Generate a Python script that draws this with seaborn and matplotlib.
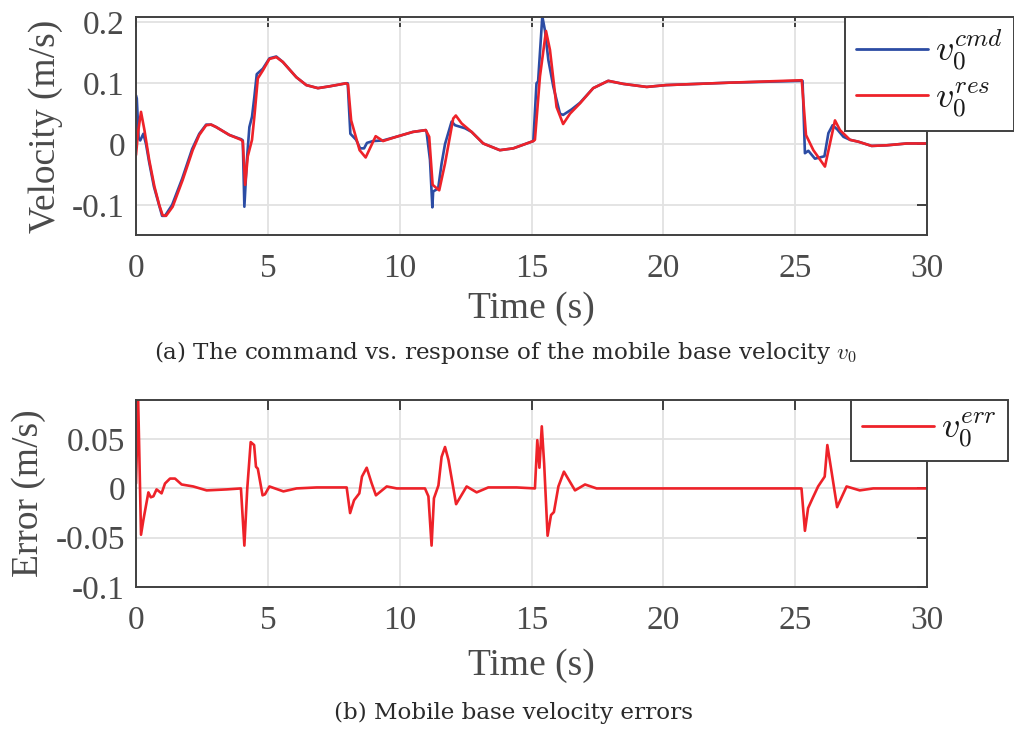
import numpy as np
import seaborn as sns
import matplotlib.pyplot as plt

# =====================================================
# DATA
# =====================================================
res_t = [0.0, 0.08, 0.19, 0.32, 0.5, 0.7, 0.88, 1.01, 1.14, 1.39, 1.77, 2.15, 2.4, 2.66,
         2.85, 3.04, 3.54, 3.99, 4.05, 4.14, 4.24, 4.4, 4.5, 4.62, 4.81, 5.06, 5.32, 5.57,
         6.08, 6.46, 6.9, 7.34, 7.97, 8.04, 8.16, 8.48, 8.71, 9.09, 9.37, 9.87, 10.5, 10.99,
         11.12, 11.25, 11.5, 11.72, 12.03, 12.13, 12.35, 12.73, 13.17, 13.8, 14.31, 15.07,
         15.13, 15.32, 15.55, 15.7, 15.95, 16.2, 16.46, 16.84, 17.34, 17.91, 18.48, 19.37,
         20.1, 22.5, 25.25, 25.41, 25.69, 26.13, 26.51, 26.7, 27.08, 27.39, 27.9, 28.47,
         29.23, 30.0]
res_v = [-0.018, 0.02, 0.053, 0.023, -0.026, -0.07, -0.1, -0.117, -0.118, -0.103, -0.059,
         -0.01, 0.015, 0.031, 0.032, 0.028, 0.015, 0.007, 0.004, -0.067, -0.02, 0.007, 0.05,
         0.108, 0.121, 0.14, 0.143, 0.135, 0.11, 0.097, 0.092, 0.095, 0.1, 0.098, 0.039,
         -0.01, -0.022, 0.013, 0.005, 0.012, 0.02, 0.023, 0.012, -0.067, -0.076, -0.032,
         0.042, 0.047, 0.034, 0.02, 0.001, -0.01, -0.007, 0.005, 0.007, 0.111, 0.186, 0.155,
         0.061, 0.033, 0.05, 0.067, 0.092, 0.104, 0.099, 0.094, 0.097, 0.101, 0.105, 0.015,
         -0.01, -0.037, 0.039, 0.023, 0.007, 0.004, -0.003, -0.002, 0.001, 0.001]

cmd_t = [0.0, 0.03, 0.1, 0.16, 0.28, 0.38, 0.5, 0.68, 0.99, 1.1, 1.37, 1.75, 2.13, 2.4,
         2.66, 2.85, 3.04, 3.54, 3.99, 4.05, 4.11, 4.2, 4.3, 4.4, 4.49, 4.58, 4.81, 5.06,
         5.32, 5.57, 6.08, 6.46, 6.9, 7.34, 7.97, 8.03, 8.13, 8.35, 8.5, 8.65, 8.76, 8.99,
         9.37, 9.87, 10.5, 10.99, 11.02, 11.15, 11.24, 11.27, 11.46, 11.59, 11.72, 11.97,
         12.1, 12.48, 12.73, 13.17, 13.8, 14.31, 15.07, 15.19, 15.25, 15.41, 15.51, 15.64,
         15.83, 16.08, 16.2, 16.52, 16.84, 17.34, 17.91, 18.48, 19.37, 20.1, 22.5, 25.28,
         25.37, 25.5, 25.75, 26.11, 26.26, 26.42, 26.6, 26.83, 27.08, 27.39, 27.9, 28.47,
         29.23, 30.0]
cmd_v = [0.08, 0.075, 0.01, 0.006, 0.017, 0.0, -0.03, -0.07, -0.118, -0.118, -0.1, -0.057,
         -0.008, 0.017, 0.032, 0.032, 0.028, 0.015, 0.008, 0.006, -0.103, -0.03, 0.028,
         0.045, 0.078, 0.115, 0.124, 0.141, 0.144, 0.135, 0.11, 0.097, 0.092, 0.095, 0.1,
         0.1, 0.017, 0.007, -0.007, -0.007, 0.002, 0.005, 0.006, 0.012, 0.02, 0.023, 0.02,
         -0.026, -0.104, -0.078, -0.073, -0.032, 0.0, 0.037, 0.031, 0.026, 0.02, 0.001,
         -0.01, -0.007, 0.005, 0.1, 0.103, 0.21, 0.187, 0.138, 0.094, 0.05, 0.048, 0.057,
         0.068, 0.092, 0.104, 0.099, 0.094, 0.097, 0.101, 0.104, -0.015, -0.011, -0.024,
         -0.02, 0.018, 0.031, 0.024, 0.012, 0.007, 0.004, -0.003, -0.002, 0.001, 0.001]

err_t = [0.0, 0.08, 0.13, 0.19, 0.28, 0.47, 0.56, 0.66, 0.78, 0.97, 1.1, 1.29, 1.48, 1.73,
         2.17, 2.68, 3.44, 3.98, 4.11, 4.22, 4.35, 4.48, 4.55, 4.62, 4.8, 4.89, 5.06, 5.27,
         5.59, 6.09, 6.85, 7.99, 8.12, 8.27, 8.47, 8.57, 8.75, 8.94, 9.1, 9.51, 9.89, 10.96,
         11.09, 11.21, 11.3, 11.47, 11.59, 11.72, 11.85, 12.14, 12.54, 12.92, 13.36, 14.44,
         15.13, 15.22, 15.3, 15.39, 15.48, 15.61, 15.74, 15.85, 16.02, 16.23, 16.65, 17.03,
         17.47, 25.24, 25.37, 25.49, 25.66, 25.87, 26.12, 26.22, 26.38, 26.59, 26.95, 27.45,
         27.96, 30.0]
err_v = [0.005, 0.092, 0.03, -0.047, -0.032, -0.004, -0.009, -0.008, -0.001, -0.005, 0.005,
         0.01, 0.01, 0.004, 0.002, -0.002, -0.001, 0.0, -0.058, 0.0, 0.047, 0.044, 0.022,
         0.02, -0.007, -0.006, 0.002, 0.0, -0.003, 0.0, 0.001, 0.001, -0.025, -0.012,
         -0.005, 0.012, 0.021, 0.005, -0.007, 0.002, 0.0, 0.0, -0.008, -0.058, -0.01, 0.003,
         0.032, 0.042, 0.029, -0.016, 0.002, -0.004, 0.001, 0.001, 0.0, 0.049, 0.021, 0.063,
         0.025, -0.048, -0.027, -0.024, 0.002, 0.017, -0.002, 0.004, 0.0, 0.0, -0.043, -0.02,
         -0.01, 0.002, 0.012, 0.044, 0.017, -0.019, 0.002, -0.002, 0.0, 0.0]

x_ticks = [0, 5, 10, 15, 20, 25, 30]
vel_ticks = [-0.1, 0, 0.1, 0.2]
vel_labels = ["-0.1", "0", "0.1", "0.2"]
err_ticks = [-0.1, -0.05, 0, 0.05]
err_labels = ["-0.1", "-0.05", "0", "0.05"]

BLUE = "#2c4ca4"
RED = "#ee2229"
DARK = "#404040"

# =====================================================
# STYLE
# =====================================================
sns.set_style("whitegrid")
plt.rcParams["font.family"] = ["Liberation Serif", "DejaVu Serif"]
plt.rcParams["mathtext.fontset"] = "cm"
plt.rcParams["axes.unicode_minus"] = False

W, H = 1014, 729
fig = plt.figure(figsize=(W / 100, H / 100), dpi=100)


def px_axes(left, top, right, bottom):
    return fig.add_axes([left / W, 1 - bottom / H, (right - left) / W, (bottom - top) / H])


def style_axes(ax, yticks, ylabels, ylim, ylabel, ylabel_x, xlabel_y):
    ax.set_xlim(0, 30)
    ax.set_ylim(*ylim)
    ax.set_xticks(x_ticks)
    ax.set_xticklabels([str(v) for v in x_ticks])
    ax.set_yticks(yticks)
    ax.set_yticklabels(ylabels)
    ax.grid(True, color="#e2e2e2", lw=1.3)
    for s in ax.spines.values():
        s.set_color(DARK)
        s.set_linewidth(1.4)
        s.set_visible(True)
    ax.tick_params(direction="in", length=7, width=1.4, top=True, right=True,
                   colors=DARK, labelsize=24, labelcolor="#4a4a4a")
    ax.tick_params(axis="x", pad=13)
    ax.tick_params(axis="y", pad=8)
    ax.set_xlabel("Time (s)", fontsize=27, color="#4a4a4a")
    ax.set_ylabel(ylabel, fontsize=27, color="#4a4a4a")
    ax.xaxis.set_label_coords(0.5, xlabel_y)
    ax.yaxis.set_label_coords(ylabel_x, 0.5)


def add_legend(ax, left, top):
    leg = ax.legend(loc="upper left", bbox_to_anchor=(left / W, 1 - top / H),
                    bbox_transform=fig.transFigure, borderaxespad=0, fancybox=False,
                    framealpha=1, edgecolor=DARK, fontsize=26, handlelength=2.0,
                    borderpad=0.3, labelspacing=0.2, handletextpad=0.2)
    leg.get_frame().set_linewidth(1.4)
    for line in leg.get_lines():
        line.set_linewidth(2.0)
    for txt in leg.get_texts():
        txt.set_color("#1a1a1a")


# =====================================================
# (a) COMMAND VS RESPONSE
# =====================================================
ax1 = px_axes(136, 17, 927, 235)
sns.lineplot(x=cmd_t, y=cmd_v, ax=ax1, color=BLUE, lw=1.9, sort=False, estimator=None,
             label=r"$v_0^{cmd}$")
sns.lineplot(x=res_t, y=res_v, ax=ax1, color=RED, lw=1.9, sort=False, estimator=None,
             label=r"$v_0^{res}$")
style_axes(ax1, vel_ticks, vel_labels, (-0.1495, 0.209), "Velocity (m/s)", -0.092, -0.26)
add_legend(ax1, 845, 17)

fig.text(505 / W, 1 - 352 / H, r"(a) The command vs. response of the mobile base velocity $v_0$",
         ha="center", va="center", fontsize=16.6, color="#2a2a2a", family="DejaVu Serif")

# =====================================================
# (b) ERRORS
# =====================================================
ax2 = px_axes(136, 400, 927, 587)
sns.lineplot(x=err_t, y=err_v, ax=ax2, color=RED, lw=1.9, sort=False, estimator=None,
             label=r"$v_0^{err}$")
style_axes(ax2, err_ticks, err_labels, (-0.1, 0.0897), "Error (m/s)", -0.114, -0.33)
add_legend(ax2, 851, 400)

fig.text(514 / W, 1 - 713 / H, "(b) Mobile base velocity errors",
         ha="center", va="center", fontsize=16.6, color="#2a2a2a", family="DejaVu Serif")

plt.savefig("out.png", dpi=100)
plt.close()
